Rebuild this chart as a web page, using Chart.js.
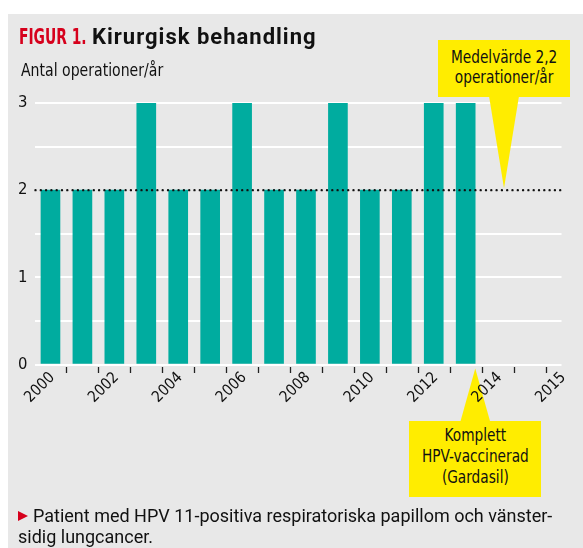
<!DOCTYPE html>
<html lang="sv">
<head>
<meta charset="utf-8">
<title>Figur 1. Kirurgisk behandling</title>
<script src="https://cdn.jsdelivr.net/npm/chart.js@4.4.1/dist/chart.umd.min.js"></script>
<style>
    html, body { margin: 0; padding: 0; background: #fff; }
    body {
        position: relative; width: 583px; height: 548px; overflow: hidden;
        font-family: 'Liberation Sans Narrow', 'DejaVu Sans Condensed', sans-serif;
        color: #111;
    }
    #panel { position: absolute; left: 8px; top: 14px; width: 575px; height: 534px; background: #e8e8e8; }
    #wrap { position: absolute; left: 0; top: 0; width: 583px; height: 548px; }
    .squeeze { display: inline-block; transform-origin: left center; white-space: nowrap; }
    .fig {
        position: absolute; left: 19px; top: 25px; font-size: 22px; line-height: 24px;
        color: #d6001c; font-weight: bold; transform: scaleX(0.7);
    }
    .main {
        position: absolute; left: 92px; top: 25px; font-size: 22px; line-height: 24px;
        font-family: Roboto, sans-serif; font-weight: bold; letter-spacing: 1px; white-space: nowrap;
    }
    .sub { position: absolute; left: 21px; top: 60px; font-size: 17px; line-height: 20px; transform: scaleX(0.92); }
    .note {
        position: absolute; box-sizing: border-box; background: #ffed00;
        text-align: center; font-size: 17.5px; white-space: nowrap;
    }
    .note span { display: inline-block; transform: scaleX(0.87); }
    #note1 { left: 438px; top: 40px; width: 132px; height: 57px; line-height: 20px; padding-top: 7px; }
    #note2 { left: 409px; top: 421px; width: 132px; height: 76px; line-height: 21px; padding-top: 4px; }
    .foot {
        position: absolute; left: 18px; top: 505px; font-family: Roboto, sans-serif;
        font-size: 18px; line-height: 21px; white-space: nowrap;
    }
    .foot .arrow {
        display: inline-block; width: 0; height: 0; margin-right: 5px; vertical-align: 1px;
        border-top: 5px solid transparent; border-bottom: 5px solid transparent; border-left: 10px solid #d6001c;
    }
</style>
</head>
<body>
<div id="panel"></div>
<div id="wrap"><canvas id="chart" width="583" height="548"></canvas></div>
<div class="fig squeeze">FIGUR 1.</div>
<div class="main">Kirurgisk behandling</div>
<div class="sub squeeze">Antal operationer/år</div>
<div class="note" id="note1"><span>Medelvärde 2,2<br>operationer/år</span></div>
<div class="note" id="note2"><span>Komplett<br>HPV-vaccinerad<br>(Gardasil)</span></div>
<div class="foot"><span class="arrow"></span>Patient med HPV 11-positiva respiratoriska papillom och vänster-<br>sidig lungcancer.</div>

<script>
    var years = ['2000', '2001', '2002', '2003', '2004', '2005', '2006',
                 '2007', '2008', '2009', '2010', '2011', '2012', '2013'];
    var operations = [2, 2, 2, 3, 2, 2, 3, 2, 2, 3, 2, 2, 3, 3];

    // etiketter på x-axeln och vilken årsplats de står vid (0 = 2000)
    var xTickLabels = ['2000', '2002', '2004', '2006', '2008', '2010', '2012', '2014', '2015'];
    var xTickSlots = [0, 2, 4, 6, 8, 10, 12, 14, 16];

    var meanLevel = 2;          // prickade linjen
    var meanNoteSlot = 14.2;    // där pratbubblan pekar
    var vaccinationSlot = 13.3;

    var narrow = "'Liberation Sans Narrow', 'DejaVu Sans Condensed', sans-serif";

    function noteRect(id, canvas) {
        var r = document.getElementById(id).getBoundingClientRect();
        var c = canvas.getBoundingClientRect();
        return { left: r.left - c.left, top: r.top - c.top, right: r.right - c.left, bottom: r.bottom - c.top };
    }

    function pointer(ctx, tipX, tipY, baseY) {
        ctx.save();
        ctx.fillStyle = '#ffed00';
        ctx.beginPath();
        ctx.moveTo(tipX - 15, baseY);
        ctx.lineTo(tipX + 15, baseY);
        ctx.lineTo(tipX, tipY);
        ctx.closePath();
        ctx.fill();
        ctx.restore();
    }

    var annotations = {
        id: 'annotations',
        beforeDraw: function (chart) {
            // pekaren ligger under x-axelns etiketter
            var x = chart.scales.x;
            var box = noteRect('note2', chart.canvas);
            pointer(chart.ctx, x.getPixelForValue(vaccinationSlot), chart.chartArea.bottom + 4, box.top + 1);
        },
        afterDatasetsDraw: function (chart) {
            var ctx = chart.ctx, area = chart.chartArea;
            var x = chart.scales.x, y = chart.scales.y;
            var yMean = y.getPixelForValue(meanLevel);

            var box = noteRect('note1', chart.canvas);
            pointer(ctx, x.getPixelForValue(meanNoteSlot), yMean - 2, box.bottom - 1);

            ctx.save();
            ctx.strokeStyle = '#111';
            ctx.lineWidth = 2.4;
            ctx.lineCap = 'round';
            ctx.setLineDash([0, 5.3]);
            ctx.beginPath();
            ctx.moveTo(area.left + 1, yMean);
            ctx.lineTo(area.right - 1, yMean);
            ctx.stroke();
            ctx.restore();

            // små streck mellan åren
            ctx.save();
            ctx.strokeStyle = '#222';
            ctx.lineWidth = 1.3;
            for (var v = x.min + 1; v < x.max; v++) {
                var px = Math.round(x.getPixelForValue(v)) + 0.5;
                ctx.beginPath();
                ctx.moveTo(px, area.bottom + 2.5);
                ctx.lineTo(px, area.bottom + 8.5);
                ctx.stroke();
            }
            ctx.restore();
        }
    };

    new Chart(document.getElementById('chart').getContext('2d'), {
        type: 'bar',
        data: {
            datasets: [{
                data: years.map(function (yr, i) { return { x: i, y: operations[i] }; }),
                backgroundColor: '#00ac9f',
                barThickness: 19
            }]
        },
        options: {
            responsive: false,
            animation: false,
            devicePixelRatio: 1,
            layout: { padding: { left: 0, right: 21.5, top: 103, bottom: 123.5 } },
            plugins: { legend: { display: false }, tooltip: { enabled: false } },
            scales: {
                x: {
                    type: 'linear',
                    min: -0.5,
                    max: 16,
                    offset: false,
                    grid: { display: false, drawTicks: false },
                    border: { display: false },
                    afterBuildTicks: function (s) {
                        s.ticks = xTickSlots.map(function (v) { return { value: v }; });
                    },
                    afterFit: function (s) { s.height = 60; },
                    ticks: {
                        autoSkip: false,
                        minRotation: 45,
                        maxRotation: 45,
                        padding: 4,
                        labelOffset: 2,
                        color: '#111',
                        font: { family: narrow, size: 15.5 },
                        callback: function (v, i) { return xTickLabels[i]; }
                    }
                },
                y: {
                    min: 0,
                    max: 3,
                    border: { display: false },
                    grid: {
                        drawTicks: false,
                        lineWidth: 2,
                        color: function (c) {
                            return c.tick && c.tick.value === meanLevel ? 'rgba(0,0,0,0)' : '#ffffff';
                        }
                    },
                    afterFit: function (s) { s.width = 34.5; },
                    ticks: {
                        stepSize: 0.5,
                        padding: 7,
                        color: '#111',
                        font: { family: narrow, size: 16.5 },
                        callback: function (v) { return Number.isInteger(v) ? String(v) : ''; }
                    }
                }
            }
        },
        plugins: [annotations]
    });
</script>
</body>
</html>
